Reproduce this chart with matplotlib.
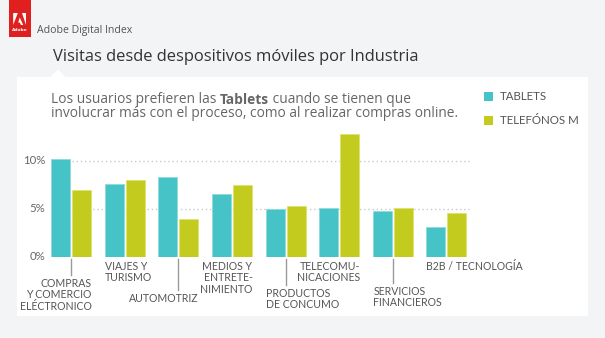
import matplotlib
matplotlib.use("Agg")
import matplotlib.pyplot as plt
from matplotlib.patches import Rectangle, Polygon
import numpy as np

# ---- data ----
categories = [
    "COMPRAS\nY COMERCIO\nELÉCTRONICO",
    "VIAJES Y\nTURISMO",
    "AUTOMOTRIZ",
    "MEDIOS Y\nENTRETE-\nNIMIENTO",
    "PRODUCTOS\nDE CONCUMO",
    "TELECOMU-\nNICACIONES",
    "SERVICIOS\nFINANCIEROS",
    "B2B / TECNOLOGÍA",
]
tablets = [10.2, 7.6, 8.3, 6.6, 5.0, 5.1, 4.8, 3.1]
telefonos = [7.0, 8.0, 4.0, 7.5, 5.3, 12.8, 5.1, 4.6]
series_names = ["TABLETS", "TELEFÓNOS M"]
ytick_values = [0, 5, 10]
ytick_labels = ["0%", "5%", "10%"]

TEAL = "#45c3c6"
LIME = "#c3cb1e"
BG = "#f3f4f6"
TXT = "#555555"

W, H = 605, 338
fig = plt.figure(figsize=(W / 100, H / 100), dpi=100)
fig.patch.set_facecolor(BG)

# full-figure overlay in pixel coordinates for decoration and text
deco = fig.add_axes([0, 0, 1, 1])
deco.set_xlim(0, W)
deco.set_ylim(H, 0)
deco.axis("off")
deco.set_zorder(0)

# white panel with a small pointer under the title
deco.add_patch(Rectangle((17, 77), 571, 239, facecolor="white", edgecolor="none"))
deco.add_patch(Polygon([(50, 77.5), (58, 69.5), (66, 77.5)], closed=True,
                       facecolor="white", edgecolor="none"))

# Adobe badge
deco.add_patch(Rectangle((9, 0), 22, 36.5, facecolor="#e0201f", edgecolor="none"))
deco.add_patch(Polygon([(13.2, 13), (17.8, 13), (13.2, 25)], closed=True,
                       facecolor="white", edgecolor="none"))
deco.add_patch(Polygon([(21.7, 13), (26.3, 13), (26.3, 25)], closed=True,
                       facecolor="white", edgecolor="none"))
deco.add_patch(Polygon([(19.75, 17.5), (23.2, 25), (20.9, 25), (19.9, 22.6),
                        (18.2, 22.6)], closed=True,
                       facecolor="white", edgecolor="none"))
deco.text(19.8, 30, "Adobe", fontsize=3.2, color="white", ha="center",
          va="center", fontweight="bold", family="DejaVu Sans")

deco.text(37, 33.5, "Adobe Digital Index", fontsize=7.6, color="#555555",
          ha="left", va="baseline", family="Open Sans")
deco.text(53, 61, "Visitas desde despositivos móviles por Industria",
          fontsize=11.9, color="#333333", ha="left", va="baseline",
          family="Open Sans")

# subtitle with a bold word
sub_fs = 9.95
t1 = deco.text(51, 103, "Los usuarios prefieren las ", fontsize=sub_fs,
               color="#666666", ha="left", va="baseline", family="Open Sans")
t2 = deco.annotate("Tablets", xy=(1, 0), xycoords=t1, fontsize=sub_fs,
                   color="#666666", fontweight="bold", ha="left",
                   va="bottom", family="Open Sans")
deco.annotate(" cuando se tienen que", xy=(1, 0), xycoords=t2,
              fontsize=sub_fs, color="#666666", ha="left", va="bottom",
              family="Open Sans")
deco.text(51, 117, "involucrar más con el proceso, como al realizar compras online.",
          fontsize=sub_fs, color="#666666", ha="left", va="baseline",
          family="Open Sans")

# legend
for k, (name, col) in enumerate(zip(series_names, [TEAL, LIME])):
    y0 = 92 + 24 * k
    deco.add_patch(Rectangle((484, y0), 8.5, 8.5, facecolor=col, edgecolor="none"))
    deco.text(500, y0 + 4.6, name, fontsize=8.3, color=TXT, ha="left",
              va="center", family="Lato")

# ---- bar chart ----
x0_px, step_px = 71.0, 53.64
left_px, right_px = 50, 480
bottom_px, top_px = 257, 120
px_per_pct = 9.6
ax = fig.add_axes([left_px / W, (H - bottom_px) / H,
                   (right_px - left_px) / W, (bottom_px - top_px) / H])
ax.set_zorder(1)
ax.patch.set_alpha(0)
ax.set_xlim((left_px - x0_px) / step_px, (right_px - x0_px) / step_px)
ax.set_ylim(0, (bottom_px - top_px) / px_per_pct)
for s in ax.spines.values():
    s.set_visible(False)
ax.set_xticks([])
ax.set_yticks([])

x = np.arange(len(categories))
bw = 19 / step_px
off = 10.5 / step_px
ax.bar(x - off, tablets, width=bw, color=TEAL, edgecolor="#8fdbdd",
       linewidth=0.6, zorder=3)
ax.bar(x + off, telefonos, width=bw, color=LIME, edgecolor="#dde36a",
       linewidth=0.6, zorder=3)

g0 = (72 - x0_px) / step_px
g1 = (469 - x0_px) / step_px
for v in ytick_values[1:]:
    ax.hlines(v, g0, g1, colors="#c9c9c9", linestyles=(0, (1, 2)),
              linewidth=1.0, zorder=1)

# y labels
for v, lab in zip(ytick_values, ytick_labels):
    deco.text(45, bottom_px - v * px_per_pct, lab, fontsize=8.2, color="#666666",
              ha="right", va="center", family="Lato")

# category labels: odd groups hang below a leader line
lab_fs = 7.6
ls = 1.05
for i, lab in enumerate(categories):
    cx = x0_px + step_px * i
    if i % 2 == 0:
        drop = {0: 19, 2: 34, 4: 29, 6: 27}[i]
        deco.plot([cx, cx], [259, 259 + drop - 3], color="#9a9a9a", lw=1.0)
        if i in (0, 2):
            deco.text(cx + 20.5, 259 + drop, lab, fontsize=lab_fs, color=TXT,
                      ha="right", va="top", multialignment="right",
                      linespacing=ls, family="Lato")
        else:
            deco.text(cx - 19.5, 259 + drop, lab, fontsize=lab_fs, color=TXT,
                      ha="left", va="top", multialignment="left",
                      linespacing=ls, family="Lato")
    else:
        if i in (3, 5):
            deco.text(cx + 20.5, 261, lab, fontsize=lab_fs, color=TXT,
                      ha="right", va="top", multialignment="right",
                      linespacing=ls, family="Lato")
        else:
            deco.text(cx - 20, 261, lab, fontsize=lab_fs, color=TXT,
                      ha="left", va="top", multialignment="left",
                      linespacing=ls, family="Lato")

fig.savefig("out.png", dpi=100, facecolor=BG)
